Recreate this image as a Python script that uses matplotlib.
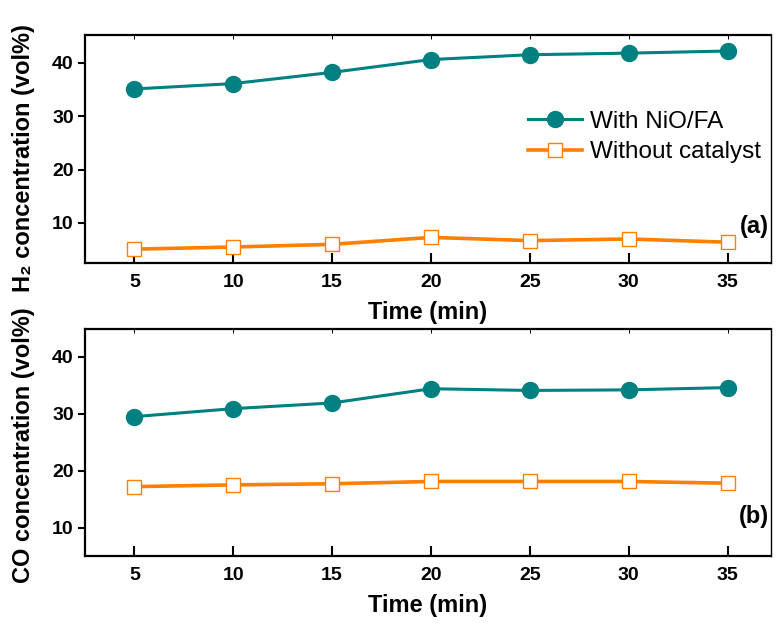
#!/usr/bin/env python3
import matplotlib
matplotlib.use("Agg")
import matplotlib.pyplot as plt

# Sampling times (min)
time_min = [5, 10, 15, 20, 25, 30, 35]

# (a) H2 concentration (vol%)
h2_with_cat = [35.1, 36.1, 38.2, 40.6, 41.5, 41.8, 42.2]
h2_without_cat = [5.1, 5.5, 6.0, 7.3, 6.7, 7.0, 6.4]

# (b) CO concentration (vol%)
co_with_cat = [29.5, 30.9, 31.9, 34.4, 34.1, 34.2, 34.6]
co_without_cat = [17.2, 17.5, 17.7, 18.1, 18.1, 18.1, 17.8]

series_labels = ["With NiO/FA", "Without catalyst"]
teal = "#008080"
orange = "#FF8000"

plt.rcParams['font.family'] = ['Liberation Sans', 'DejaVu Sans']

fig = plt.figure(figsize=(7.76, 6.27), dpi=100)
ax_a = fig.add_axes([0.1095, 0.5805, 0.8841, 0.3637])
ax_b = fig.add_axes([0.1095, 0.1132, 0.8841, 0.3621])


def style_axis(ax, ylim, ylabel, ylabel_y, panel, panel_y):
    ax.set_xlim(2.5, 37.2)
    ax.set_ylim(*ylim)
    ax.set_xticks(time_min)
    ax.set_yticks([10, 20, 30, 40])
    for side in ['left', 'bottom', 'top']:
        ax.spines[side].set_linewidth(1.6)
    ax.spines['right'].set_linewidth(1.0)
    ax.tick_params(axis='x', direction='in', length=7, width=1.5, top=True, pad=8)
    ax.tick_params(axis='y', direction='out', length=5, width=1.5, pad=3)
    for tick in ax.xaxis.get_major_ticks():
        tick.tick2line.set_markersize(3)
        tick.tick2line.set_markeredgewidth(0.7)
    for lab in ax.get_xticklabels() + ax.get_yticklabels():
        lab.set_fontsize(14)
        lab.set_fontweight('bold')
    ax.set_xlabel("Time (min)", fontsize=17, fontweight='bold', labelpad=7)
    ax.set_ylabel(ylabel, fontsize=17, fontweight='bold')
    ax.yaxis.set_label_coords(-0.073, ylabel_y)
    ax.text(0.997, panel_y, panel, transform=ax.transAxes, ha='right', va='center',
            fontsize=17, fontweight='bold')


def draw(ax, with_cat, without_cat):
    ax.plot(time_min, with_cat, color=teal, linewidth=2.2, marker='o',
            markersize=11.5, label=series_labels[0], zorder=3)
    ax.plot(time_min, without_cat, color=orange, linewidth=2.6, marker='s',
            markersize=9.5, markerfacecolor='white', markeredgecolor=orange,
            markeredgewidth=1.0, label=series_labels[1], zorder=3)


draw(ax_a, h2_with_cat, h2_without_cat)
draw(ax_b, co_with_cat, co_without_cat)

style_axis(ax_a, (2.5, 45.2), "H\u2082 concentration (vol%)", 0.46, "(a)", 0.162)
style_axis(ax_b, (5.0, 44.9), "CO concentration (vol%)", 0.49, "(b)", 0.172)

ax_a.legend(loc='center left', bbox_to_anchor=(0.646, 0.553), frameon=False,
            fontsize=17.5, handlelength=2.2, handletextpad=0.35, labelspacing=0.35,
            borderpad=0, borderaxespad=0)

fig.savefig("out.png", dpi=100)
plt.close(fig)
